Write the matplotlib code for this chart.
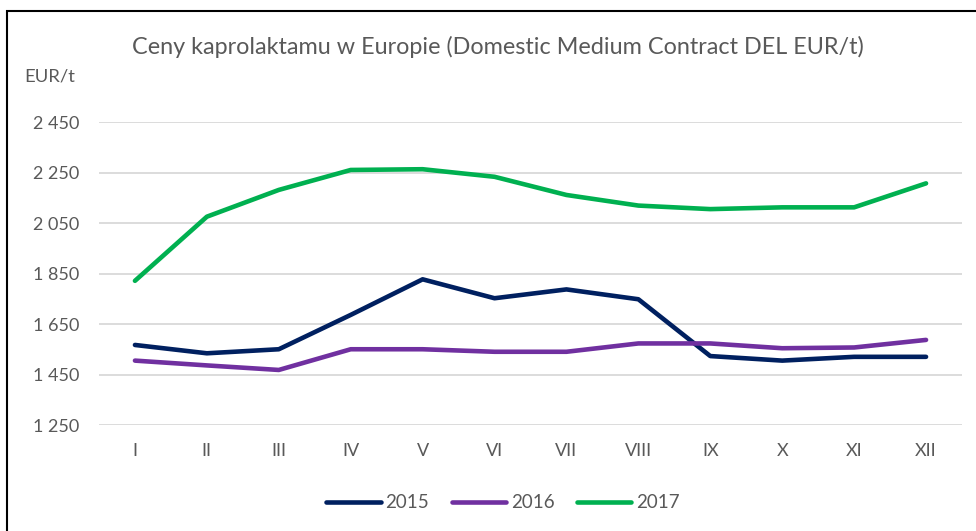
import matplotlib.pyplot as plt
import numpy as np
from matplotlib.patches import Rectangle

plt.rcParams["font.family"] = ["Lato", "DejaVu Sans"]

months = ["I", "II", "III", "IV", "V", "VI", "VII", "VIII", "IX", "X", "XI", "XII"]
prices_2015 = [1567, 1534, 1550, 1686, 1827, 1752, 1787, 1748, 1523, 1505, 1520, 1520]
prices_2016 = [1505, 1486, 1468, 1550, 1550, 1540, 1540, 1573, 1573, 1554, 1557, 1587]
prices_2017 = [1821, 2075, 2181, 2260, 2263, 2233, 2161, 2119, 2105, 2112, 2112, 2207]
y_ticks = [1250, 1450, 1650, 1850, 2050, 2250, 2450]

text_color = "#595959"

fig = plt.figure(figsize=(9.76, 5.31), dpi=100)
ax = fig.add_axes([99 / 976, 1 - 425 / 531, 863 / 976, 303 / 531])

x = np.arange(len(months))
ax.plot(x, prices_2015, color="#002060", lw=3.3, solid_capstyle="round", label="2015")
ax.plot(x, prices_2016, color="#7030A0", lw=3.3, solid_capstyle="round", label="2016")
ax.plot(x, prices_2017, color="#00B050", lw=3.3, solid_capstyle="round", label="2017")

ax.set_xlim(-0.5, len(months) - 0.5)
ax.set_ylim(1250, 2450)
ax.set_yticks(y_ticks)
ax.set_yticklabels([f"{v:,}".replace(",", " ") for v in y_ticks])
ax.set_xticks(x)
ax.set_xticklabels(months)
ax.grid(axis="y", color="#D9D9D9", lw=1.3)
ax.set_axisbelow(True)
for side in ax.spines.values():
    side.set_visible(False)
ax.tick_params(axis="both", length=0, colors=text_color, labelsize=13)
ax.tick_params(axis="x", pad=13)
ax.tick_params(axis="y", pad=14)

fig.text(498 / 976, 1 - 47 / 531, "Ceny kaprolaktamu w Europie (Domestic Medium Contract DEL EUR/t)",
         ha="center", va="center", fontsize=16.8, color=text_color)
fig.text(24 / 976, 1 - 77 / 531, "EUR/t", ha="left", va="center", fontsize=13.3, color=text_color)

fig.legend(loc="center", bbox_to_anchor=(503 / 976, 1 - 503 / 531), ncol=3, frameon=False,
           fontsize=13.5, handlelength=2.9, handletextpad=0.25, columnspacing=1.2,
           labelcolor=text_color)

fig.patches.append(Rectangle((7 / 976, -0.05), 1.1, 1 - 11 / 531 + 0.05, transform=fig.transFigure,
                             fill=False, edgecolor="black", lw=1.5))

fig.savefig("out.png", dpi=100)
